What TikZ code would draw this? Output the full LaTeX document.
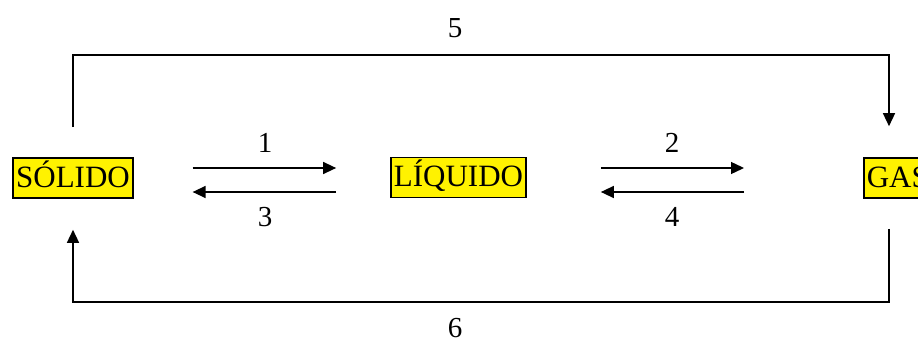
\documentclass[tikz,border=0pt]{standalone}
\usepackage{fontspec}
\setmainfont{Liberation Serif}
\usetikzlibrary{arrows.meta}
\begin{document}
\begin{tikzpicture}[x=1pt,y=1pt,
  phase/.style={draw=black, line width=1.6pt, fill=yellow, inner xsep=3pt, inner ysep=0pt,
    text height=22pt, text depth=4pt, minimum height=40pt,
    font=\fontsize{31}{36}\selectfont},
  num/.style={font=\fontsize{29}{34}\selectfont, inner sep=0pt},
  conn/.style={line width=1.4pt, -{Triangle[length=13pt,width=12pt]}},
  link/.style={line width=1.4pt}]
\useasboundingbox (0,0) rectangle (918,338);

% the three states
\node[phase] (s) at (73,160) {SÓLIDO};
\node[phase] (l) at (458.5,160.5) {LÍQUIDO};
\node[phase, anchor=west] (g) at (863,160) {GAS};

% free ends of the outer loops
\coordinate (sTop) at ([yshift=30pt]s.north);
\coordinate (sBot) at ([yshift=-31pt]s.south);
\coordinate (gTop) at ([xshift=26pt,yshift=31pt]g.north west);
\coordinate (gBot) at ([xshift=26pt,yshift=-30pt]g.south west);

% transitions between neighbouring states
\draw[conn, shorten <=59pt, shorten >=54pt] ([yshift=10pt]s.east) -- ([yshift=9.5pt]l.west);
\draw[conn, shorten <=54pt, shorten >=59pt] ([yshift=-14.5pt]l.west) -- ([yshift=-14pt]s.east);
\draw[conn, shorten <=74pt, shorten >=119pt] ([yshift=9.5pt]l.east) -- ([yshift=10pt]g.west);
\draw[conn, shorten <=119pt, shorten >=74pt] ([yshift=-14pt]g.west) -- ([yshift=-14.5pt]l.east);

% sublimation and deposition
\draw[conn] (sTop) -- ++(0,72) -| (gTop);
\draw[conn] (gBot) -- ++(0,-73) -| (sBot);

% labels
\node[num] (n1) at (265,195) {1};
\node[num] (n3) at (265,121) {3};
\node[num] (n2) at (672,195) {2};
\node[num] (n4) at (672,121) {4};
\node[num] (n5) at (455,310) {5};
\node[num] (n6) at (455,10) {6};
\end{tikzpicture}
\end{document}
